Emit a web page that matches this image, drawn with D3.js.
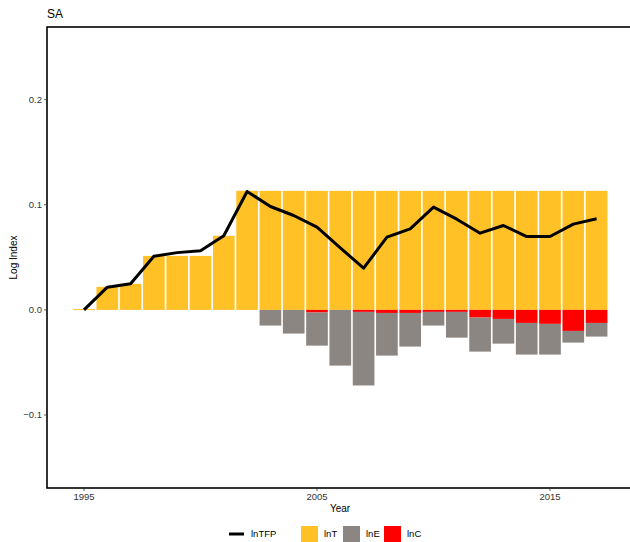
<!DOCTYPE html>
<html>
<head>
<meta charset="utf-8">
<script src="https://cdn.jsdelivr.net/npm/d3@7"></script>
<style>
  html, body { margin: 0; padding: 0; background: #fff; }
  svg { display: block; font-family: "Liberation Sans", Arial, sans-serif; }
</style>
</head>
<body>
<svg id="chart" width="630" height="542"></svg>
<script>
const years = [1995,1996,1997,1998,1999,2000,2001,2002,2003,2004,2005,2006,2007,2008,2009,2010,2011,2012,2013,2014,2015,2016,2017];
const lnT   = [0.0008,0.0219,0.0248,0.0514,0.0514,0.0514,0.0705,0.1133,0.1133,0.1133,0.1133,0.1133,0.1133,0.1133,0.1133,0.1133,0.1133,0.1133,0.1133,0.1133,0.1133,0.1133,0.1133];
const lnE   = [0,0,0,0,0,0,0,0,-0.0149,-0.0225,-0.0315,-0.0530,-0.0700,-0.0406,-0.0320,-0.0130,-0.0245,-0.0324,-0.0235,-0.0301,-0.0292,-0.0111,-0.0130];
const lnC   = [0,0,0,0,0,0,0,0,0,0,-0.0025,0,-0.0019,-0.0029,-0.0029,-0.0019,-0.0019,-0.0073,-0.0086,-0.0124,-0.0133,-0.0200,-0.0124];
const lnTFP = [0.0000,0.0216,0.0248,0.0511,0.0545,0.0562,0.0705,0.1127,0.0984,0.0898,0.0787,0.0590,0.0397,0.0692,0.0771,0.0978,0.0863,0.0730,0.0803,0.0698,0.0698,0.0816,0.0867];
const yTicks = [0.2, 0.1, 0.0, -0.1];
const xTicks = [1995, 2005, 2015];
const legendItems = ["lnTFP", "lnT", "lnE", "lnC"];

const colT = "#FFC125", colE = "#8B8682", colC = "#FF0000";

const svg = d3.select("#chart");
const pLeft = 47, pRight = 633, pTop = 27, pBottom = 488;

const x = d3.scaleLinear().domain([1995, 2015]).range([84, 550]);
const y = d3.scaleLinear().domain([0.2, -0.1]).range([99.7, 415]);
const step = x(1996) - x(1995);
const bw = step * 0.93;

const data = years.map((yr, i) => ({yr, T: lnT[i], E: lnE[i], C: lnC[i], tfp: lnTFP[i]}));

const g = svg.append("g");
g.append("defs").append("clipPath").attr("id", "clip")
  .append("rect").attr("x", pLeft).attr("y", pTop).attr("width", pRight - pLeft).attr("height", pBottom - pTop);

const plot = g.append("g").attr("clip-path", "url(#clip)");

// lnT bars
plot.selectAll(".barT").data(data).join("rect")
  .attr("x", d => x(d.yr) - bw / 2)
  .attr("width", bw)
  .attr("y", d => y(d.T))
  .attr("height", d => Math.max(1, y(0) - y(d.T)))
  .attr("fill", colT);

// lnC bars (directly below zero)
plot.selectAll(".barC").data(data.filter(d => d.C < 0)).join("rect")
  .attr("x", d => x(d.yr) - bw / 2)
  .attr("width", bw)
  .attr("y", y(0))
  .attr("height", d => y(d.C) - y(0))
  .attr("fill", colC);

// lnE bars (stacked below lnC)
plot.selectAll(".barE").data(data.filter(d => d.E < 0)).join("rect")
  .attr("x", d => x(d.yr) - bw / 2)
  .attr("width", bw)
  .attr("y", d => y(d.C))
  .attr("height", d => y(d.C + d.E) - y(d.C))
  .attr("fill", colE);

// lnTFP line
const line = d3.line().x(d => x(d.yr)).y(d => y(d.tfp));
plot.append("path").datum(data)
  .attr("d", line)
  .attr("fill", "none")
  .attr("stroke", "#000")
  .attr("stroke-width", 3)
  .attr("stroke-linejoin", "round");

// panel border
g.append("rect")
  .attr("x", pLeft).attr("y", pTop)
  .attr("width", pRight - pLeft).attr("height", pBottom - pTop)
  .attr("fill", "none").attr("stroke", "#000").attr("stroke-width", 1.6);

// y axis ticks & labels
const fmt = v => (v < 0 ? "\u2212" : "") + Math.abs(v).toFixed(1);
yTicks.forEach(t => {
  g.append("line").attr("x1", pLeft - 3).attr("x2", pLeft).attr("y1", y(t)).attr("y2", y(t))
    .attr("stroke", "#333").attr("stroke-width", 0.8);
  g.append("text").attr("x", pLeft - 5).attr("y", y(t)).attr("dy", "0.35em")
    .attr("text-anchor", "end").attr("font-size", 9.5).attr("fill", "#333").text(fmt(t));
});

// x axis ticks & labels
xTicks.forEach(t => {
  g.append("line").attr("x1", x(t)).attr("x2", x(t)).attr("y1", pBottom).attr("y2", pBottom + 3)
    .attr("stroke", "#333").attr("stroke-width", 0.8);
  g.append("text").attr("x", x(t)).attr("y", pBottom + 12)
    .attr("text-anchor", "middle").attr("font-size", 9.5).attr("fill", "#333").text(t);
});

// axis titles
g.append("text").attr("x", (pLeft + pRight) / 2).attr("y", 512)
  .attr("text-anchor", "middle").attr("font-size", 10).attr("fill", "#000").text("Year");
g.append("text").attr("transform", `translate(17,${(pTop + pBottom) / 2}) rotate(-90)`)
  .attr("text-anchor", "middle").attr("font-size", 10).attr("fill", "#000").text("Log Index");

// title
g.append("text").attr("x", 47).attr("y", 18).attr("font-size", 12).attr("fill", "#000").text("SA");

// legend
const ly = 534;
const lg = g.append("g");
lg.append("line").attr("x1", 229).attr("x2", 244).attr("y1", ly).attr("y2", ly)
  .attr("stroke", "#000").attr("stroke-width", 3);
lg.append("text").attr("x", 251).attr("y", ly).attr("dy", "0.35em").attr("font-size", 9.5).text(legendItems[0]);
const boxes = [{c: colT, x: 301, t: legendItems[1]}, {c: colE, x: 343, t: legendItems[2]}, {c: colC, x: 384, t: legendItems[3]}];
boxes.forEach(b => {
  lg.append("rect").attr("x", b.x).attr("y", ly - 8).attr("width", 17).attr("height", 17).attr("fill", b.c);
  lg.append("text").attr("x", b.x + 23).attr("y", ly).attr("dy", "0.35em").attr("font-size", 9.5).text(b.t);
});
</script>
</body>
</html>
